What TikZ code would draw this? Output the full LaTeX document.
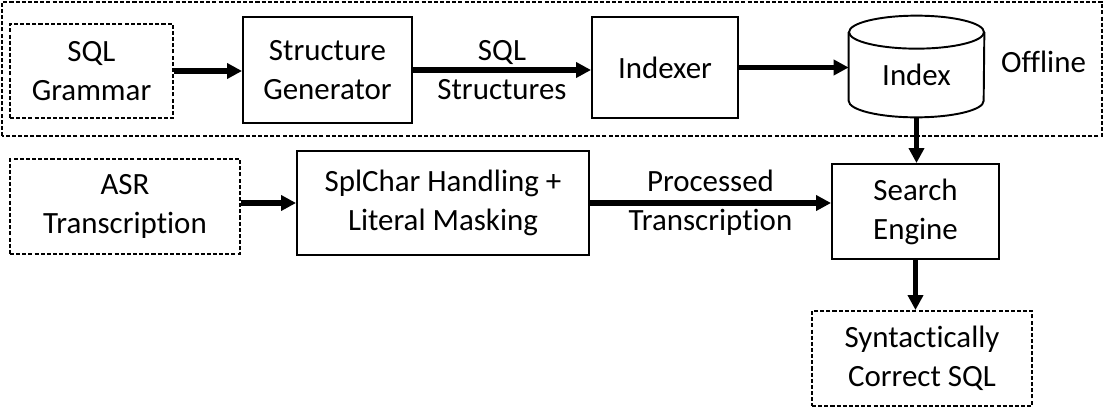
\documentclass[tikz,border=0pt]{standalone}
\usepackage{fontspec}
\setmainfont{Carlito}[Ligatures=NoCommon]
\usetikzlibrary{arrows.meta}

\begin{document}
\begin{tikzpicture}[
    font=\fontsize{17.6}{22.2}\selectfont,
    box/.style={draw, line width=1.1pt, align=center, inner sep=2pt},
    dashline/.style={line width=1.1pt, dash pattern=on 2.3pt off 1.2pt},
    dbox/.style={box, dashline},
    flow/.style={-{Triangle[length=0.3cm,width=0.3cm]}, line width=3pt}
  ]
  \useasboundingbox (0,0) rectangle (22.2,8.36);

  % offline part
  \draw[dashline] (0.04,5.64) rectangle (22.04,8.32);
  \node[dbox, minimum width=3.26cm, minimum height=1.88cm] (grammar) at (1.83,6.94) {SQL\\Grammar};
  \node[box, minimum width=3.38cm, minimum height=2.12cm] (struct) at (6.55,6.96) {Structure\\Generator};
  \node[box, minimum width=2.92cm, minimum height=2.02cm] (indexer) at (13.30,7.01) {Indexer};
  \node[minimum width=2.70cm, minimum height=2.02cm, inner sep=0pt] (index) at (18.33,7.03) {};
  \node (indexlbl) at ([yshift=-0.16cm]index.center) {Index};
  \draw[line width=1.1pt] ([yshift=-0.33cm]index.north west) -- ([yshift=0.33cm]index.south west)
    arc[start angle=180, end angle=360, x radius=1.35cm, y radius=0.33cm]
    -- ([yshift=-0.33cm]index.north east);
  \draw[line width=1.1pt] ([yshift=-0.33cm]index.north) ellipse[x radius=1.35cm, y radius=0.33cm];
  \node (offline) at (20.87,7.12) {Offline};

  % online part
  \node[dbox, minimum width=4.60cm, minimum height=1.90cm] (asr) at (2.50,4.23) {ASR\\Transcription};
  \node[box, minimum width=5.84cm, minimum height=2.08cm] (split) at (8.86,4.30) {SplChar Handling +\\Literal Masking};
  \node[box, minimum width=3.34cm, minimum height=1.90cm] (search) at (18.31,4.13) {Search\\Engine};
  \node[dbox, minimum width=4.40cm, minimum height=1.90cm] (result) at (18.44,1.19) {Syntactically\\Correct SQL};

  % arrows
  \draw[flow] (grammar.east) -- (grammar.east -| struct.west);
  \draw[flow] (struct.east) -- node[align=center] (sqlstruct) {SQL\\Structures} (struct.east -| indexer.west);
  \draw[flow] (indexer.east) -- (indexer.east -| index.west);
  \draw[flow] (index.south) -- (index.south |- search.north);
  \draw[flow] (split.west -| asr.east) -- (split.west);
  \draw[flow] (split.east) -- node[align=center] (proc) {Processed\\Transcription} (split.east -| search.west);
  \draw[flow] (search.south) -- (search.south |- result.north);
\end{tikzpicture}
\end{document}
